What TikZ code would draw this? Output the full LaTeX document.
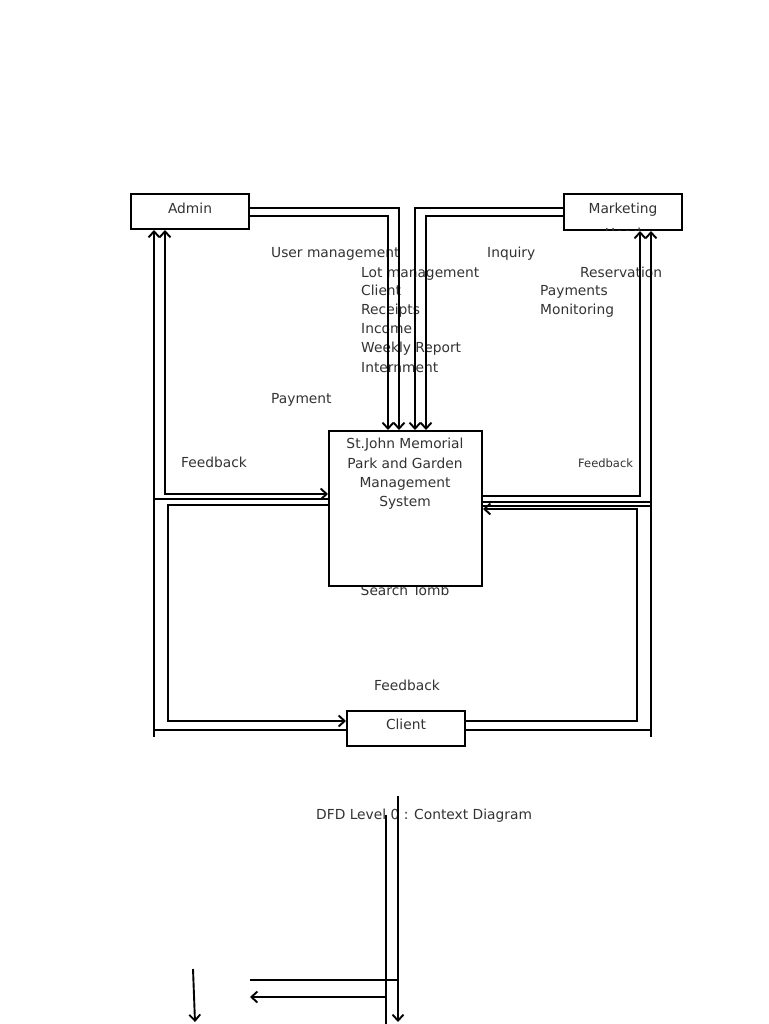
\documentclass[tikz,border=0pt]{standalone}
\usepackage{fontspec}
\setmainfont{DejaVu Sans}
\usetikzlibrary{arrows.meta}
\begin{document}
\begin{tikzpicture}[x=1pt,y=-1pt,
  box/.style={draw,line width=2pt,fill=white,inner sep=0pt},
  txt/.style={inner sep=0pt,text height=10.2pt,text depth=0pt,font=\fontsize{13.8}{16}\selectfont,text=black!80},
  lbl/.style={txt,anchor=west},
  flow/.style={line width=1.9pt},
  thinflow/.style={line width=1.2pt},
  >={Straight Barb[length=6pt,width=11pt]}]
\useasboundingbox[fill=white] (0,0) rectangle (768,1024);

% boxes
\node[box,minimum width=118pt,minimum height=35pt] (admin) at (190,211.5) {};
\node[box,minimum width=118pt,minimum height=36pt] (mkt) at (623,212) {};
\node[txt] (searcht) at (405,590) {Search Tomb};
\node[box,minimum width=153pt,minimum height=155pt] (main) at (405.5,508.5) {};
\node[box,minimum width=118pt,minimum height=35pt] (client) at (406,728.5) {};

% box texts
\node[txt] (admint) at (190,208) {Admin};
\node[txt] (mktt) at (623,208) {Marketing};
\begin{scope}
  \clip (mkt.south west) rectangle (mkt.north east);
  \node[txt] (mkth) at (623,233) {Head};
\end{scope}
\node[inner sep=0pt,text=black!80,align=center,font=\fontsize{13.8}{19.3}\selectfont] (maint) at (405,474) {St.John Memorial\\Park and Garden\\Management\\System};
\node[txt] (clientt) at (406,724) {Client};

% labels
\node[lbl] (l1) at (271,252) {User management};
\node[lbl] (l2) at (361,272) {Lot management};
\node[lbl] (l3) at (361,290) {Client};
\node[lbl] (l4) at (361,309) {Receipts};
\node[lbl] (l5) at (361,328) {Income};
\node[lbl] (l6) at (361,347) {Weekly Report};
\node[lbl] (l7) at (361,367) {Internment};
\node[lbl] (l8) at (271,398) {Payment};
\node[lbl] (r1) at (487,252) {Inquiry};
\node[lbl] (r2) at (580,272) {Reservation};
\node[lbl] (r3) at (540,290) {Payments};
\node[lbl] (r4) at (540,309) {Monitoring};
\node[lbl] (fb1) at (181,462) {Feedback};
\node[lbl,text height=8.5pt,font=\fontsize{11.5}{13}\selectfont] (fb2) at (578,463) {Feedback};
\node[lbl] (fb3) at (374,685) {Feedback};
\node[lbl] (title) at (316,814) {DFD Level 0 : Context Diagram};

% top flows
\draw[flow,->] ([yshift=3.5pt]admin.east) -| ([xshift=-6.5pt]main.north);
\draw[flow,->] ([yshift=-4.5pt]admin.east) -| ([xshift=-17.5pt]main.north);
\draw[flow,->] ([yshift=4pt]mkt.west) -| ([xshift=9.5pt]main.north);
\draw[flow,->] ([yshift=-4pt]mkt.west) -| ([xshift=20.5pt]main.north);

% left side
\coordinate (ltail) at (154,737);
\coordinate (lc) at (168,721);
\coordinate (m499) at ([yshift=9.5pt]main.west);
\coordinate (m505) at ([yshift=3.5pt]main.west);
\draw[flow,<->] ([xshift=-25pt]admin.south) |- ([yshift=14.5pt]main.west);
\draw[flow,<-] ([xshift=-36pt]admin.south) -- (ltail);
\draw[flow] ([yshift=-1.5pt]client.west) -| (ltail);
\draw[thinflow] (m499 -| ltail) -- (m499);
\draw[flow,->] (m505) -| (lc) -- ([yshift=7.5pt]client.west);

% right side
\coordinate (rtail) at (651,737);
\coordinate (rc) at (637,509);
\coordinate (m502) at ([yshift=6.5pt]main.east);
\coordinate (m506) at ([yshift=2.5pt]main.east);
\draw[flow,<-] ([xshift=17pt]mkt.south) |- ([yshift=12.5pt]main.east);
\draw[flow,<-] ([xshift=28pt]mkt.south) -- (rtail);
\draw[flow] ([yshift=-1.5pt]client.east) -| (rtail);
\draw[thinflow] (m502) -- (m502 -| rtail);
\draw[flow] (m506) -- (m506 -| rtail);
\draw[flow,->] ([yshift=7.5pt]client.east) -| (rc) -- (rc -| main.east);

% stray lines at bottom
\coordinate (b1t) at (386,815);
\coordinate (b1b) at (386,1024);
\coordinate (b2t) at (398,796);
\coordinate (b2b) at (398,1022);
\coordinate (h1a) at (250,980);
\coordinate (h2a) at (250,997);
\coordinate (sa) at (193,969);
\coordinate (sb) at (195,1022);
\draw[flow] (b1t) -- (b1b);
\draw[flow,->] (b2t) -- (b2b);
\draw[flow] (h1a) -- (h1a -| b2t);
\draw[flow,->] (h2a -| b1t) -- (h2a);
\draw[flow,->] (sa) -- (sb);
\end{tikzpicture}
\end{document}
